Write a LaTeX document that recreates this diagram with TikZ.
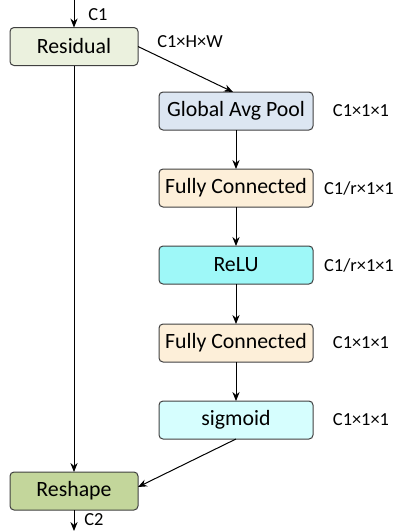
\documentclass[tikz,border=0pt]{standalone}
\usepackage{fontspec}
\setmainfont{Carlito}
\usetikzlibrary{arrows.meta}
\definecolor{resfill}{HTML}{EBF1DE}
\definecolor{reshapefill}{HTML}{C3D69B}
\definecolor{poolfill}{HTML}{DCE6F2}
\definecolor{fcfill}{HTML}{FDEFD9}
\definecolor{relufill}{HTML}{9EF8F8}
\definecolor{sigfill}{HTML}{D6FEFE}
\definecolor{edge}{HTML}{404040}
\tikzset{
  block/.style={draw=edge, line width=0.5pt, rounded corners=2pt, outer sep=0pt,
    minimum height=19pt, inner sep=0pt, font=\fontsize{10.9}{13}\selectfont},
  sidebox/.style={block, minimum width=64pt},
  mainbox/.style={block, minimum width=77pt},
  dimlabel/.style={font=\fontsize{9.2}{11}\selectfont, inner sep=0pt},
  flow/.style={line width=0.5pt, -{Stealth[length=4.5pt,width=3.6pt]}}
}
\begin{document}
\begin{tikzpicture}[x=0.5pt, y=-0.5pt]
  \useasboundingbox (0,0) rectangle (396,531);
  % left column
  \node[sidebox, fill=resfill] (res) at (74,46.5) {Residual};
  \node[sidebox, fill=reshapefill] (reshape) at (74,491) {Reshape};
  % squeeze-excitation branch
  \node[mainbox, fill=poolfill] (pool) at (236,111) {Global Avg Pool};
  \node[mainbox, fill=fcfill] (fc1) at (236,188) {Fully Connected};
  \node[mainbox, fill=relufill] (relu) at (236,265) {ReLU};
  \node[mainbox, fill=fcfill] (fc2) at (236,343) {Fully Connected};
  \node[mainbox, fill=sigfill] (sig) at (236,420) {sigmoid};
  % tensor shapes
  \node[dimlabel] (lin) at (98,15) {C1};
  \node[dimlabel] (lres) at (190,42) {C1×H×W};
  \node[dimlabel] (lpool) at (361,111) {C1×1×1};
  \node[dimlabel] (lfc1) at (359,188) {C1/r×1×1};
  \node[dimlabel] (lrelu) at (359,265) {C1/r×1×1};
  \node[dimlabel] (lfc2) at (361,343) {C1×1×1};
  \node[dimlabel] (lsig) at (361,420) {C1×1×1};
  \node[dimlabel] (lout) at (94,520) {C2};
  % connectors
  \coordinate (in) at (74,0);
  \coordinate (out) at (74,531);
  \draw[flow] (in) -- (res.north);
  \draw[flow] (res.east) -- (pool.north -| 233,0);
  \draw[flow] (pool) -- (fc1);
  \draw[flow] (fc1) -- (relu);
  \draw[flow] (relu) -- (fc2);
  \draw[flow] (fc2) -- (sig);
  \draw[flow] (res.south) -- (reshape.north);
  \draw[flow] (sig.south) -- (reshape.east |- 0,487);
  \draw[flow] (reshape.south) -- (out);
\end{tikzpicture}
\end{document}
